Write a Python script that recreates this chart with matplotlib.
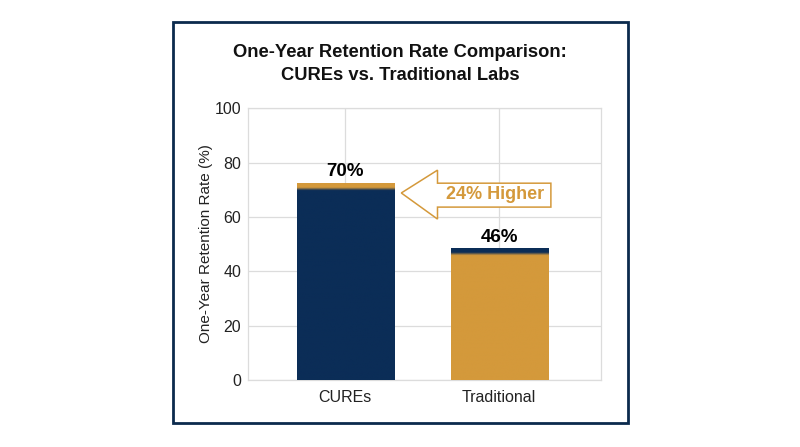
import numpy as np
import matplotlib
matplotlib.use("Agg")
import matplotlib.pyplot as plt
from matplotlib.patches import Polygon, Rectangle
from matplotlib.colors import to_rgb

plt.rcParams["font.family"] = ["Liberation Sans", "DejaVu Sans"]

categories = ["CUREs", "Traditional"]
retention = [70, 46]
value_labels = ["70%", "46%"]
yticks = [0, 20, 40, 60, 80, 100]

navy = "#0b2d57"
gold = "#d4993b"
bar_main = [navy, gold]
bar_cap = [gold, navy]

fig = plt.figure(figsize=(8, 4.47), dpi=100)
fig.patch.set_facecolor("white")

# outer frame
fig.patches.append(Rectangle((0.216, 0.053), 0.569, 0.897, transform=fig.transFigure,
                             fill=False, edgecolor="#0b2a4d", linewidth=2.0))

ax = fig.add_axes([0.310, 0.150, 0.441, 0.608])
x = np.arange(len(categories))
width = 0.63
cap = 2.4

for i, v in enumerate(retention):
    top = v + cap
    bars = ax.bar(x[i], top, width=width, color="none", edgecolor="none", zorder=3)
    patch = bars[0]
    # vertical gradient: main colour below, cap colour on top
    n = 400
    yy = np.linspace(0, top, n)
    t = np.clip((yy - (v - 0.2)) / 1.1, 0, 1)
    c0 = np.array(to_rgb(bar_main[i]))
    c1 = np.array(to_rgb(bar_cap[i]))
    img = (1 - t)[:, None] * c0 + t[:, None] * c1
    img = img[:, None, :]
    im = ax.imshow(img, extent=(x[i] - width / 2, x[i] + width / 2, 0, top),
                   origin="lower", aspect="auto", zorder=3)
    im.set_clip_path(patch)
    ax.text(x[i], top + 1.0, value_labels[i], ha="center", va="bottom",
            fontsize=13.5, fontweight="bold", color="black", zorder=4)

# "24% Higher" arrow
arrow_pts = [(0.365, 68.8), (0.60, 77.2), (0.60, 72.4), (1.336, 72.4),
             (1.336, 63.6), (0.60, 63.6), (0.60, 59.2)]
ax.add_patch(Polygon(arrow_pts, closed=True, facecolor="white", edgecolor=gold,
                     linewidth=1.1, zorder=4))
ax.text(0.975, 68.2, "24% Higher", ha="center", va="center", fontsize=13,
        fontweight="bold", color=gold, zorder=5)

ax.set_xlim(-0.63, 1.66)
ax.set_ylim(0, 100)
ax.set_yticks(yticks)
ax.set_xticks(x)
ax.set_xticklabels(categories)
ax.tick_params(axis="both", length=0, labelsize=11.5, colors="#222222")
ax.tick_params(axis="x", pad=7)
ax.tick_params(axis="y", pad=5)
ax.grid(True, color="#dcdcdc", linewidth=0.9, zorder=0)
ax.set_axisbelow(True)
for s in ax.spines.values():
    s.set_color("#dcdcdc")
    s.set_linewidth(0.9)
ax.set_ylabel("One-Year Retention Rate (%)", fontsize=11, color="#222222", labelpad=1)

fig.text(0.5, 0.857, "One-Year Retention Rate Comparison:\nCUREs vs. Traditional Labs",
         ha="center", va="center", fontsize=13.2, fontweight="bold", color="#111111",
         linespacing=1.5)

fig.savefig("out.png", dpi=100)
